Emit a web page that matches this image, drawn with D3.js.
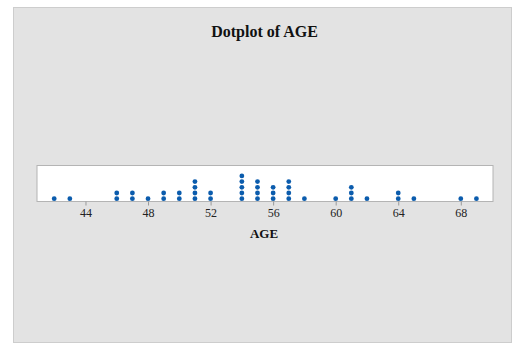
<!DOCTYPE html>
<html lang="en">
<head>
<meta charset="UTF-8">
<title>Dotplot of AGE</title>
<script src="https://d3js.org/d3.v7.min.js"></script>
<style>
  body { margin: 0; background: #fff; }
  svg text { font-family: "Liberation Serif", "Times New Roman", serif; fill: #111; }
</style>
</head>
<body>
<div id="chart"></div>
<script>
// ages and how many observations stack at each
const ages   = [42, 43, 46, 47, 48, 49, 50, 51, 52, 54, 55, 56, 57, 58, 60, 61, 62, 64, 65, 68, 69];
const counts = [ 1,  1,  2,  2,  1,  2,  2,  4,  2,  5,  4,  3,  4,  1,  1,  3,  1,  2,  1,  1,  1];
const tickValues = [44, 48, 52, 56, 60, 64, 68];

const width = 529, height = 351;

const svg = d3.select("#chart").append("svg")
    .attr("width", width)
    .attr("height", height);

// outer grey panel
svg.append("rect")
    .attr("x", 13.5).attr("y", 7.5)
    .attr("width", 498).attr("height", 335)
    .attr("fill", "#e3e3e3")
    .attr("stroke", "#cdcdcd");

// plot area
const plotLeft = 37, plotRight = 493, plotTop = 165.5, plotBottom = 201.5;

svg.append("rect")
    .attr("x", plotLeft).attr("y", plotTop)
    .attr("width", plotRight - plotLeft).attr("height", plotBottom - plotTop)
    .attr("fill", "#fff")
    .attr("stroke", "#b4b4b4");

const x = d3.scaleLinear()
    .domain([40.9, 70.06])
    .range([plotLeft, plotRight]);

const xAxis = d3.axisBottom(x)
    .tickValues(tickValues)
    .tickSize(4)
    .tickPadding(3)
    .tickFormat(d3.format("d"));

const ax = svg.append("g")
    .attr("transform", "translate(0," + plotBottom + ")")
    .call(xAxis);
ax.select(".domain").remove();
ax.selectAll(".tick line").attr("stroke", "#999");
ax.selectAll(".tick text")
    .style("font-size", "12px")
    .style("font-family", "'Liberation Serif', serif")
    .style("fill", "#222");

// expand counts into individual dots
const dots = [];
ages.forEach(function(a, i) {
    for (let k = 0; k < counts[i]; k++) dots.push({ age: a, level: k });
});

const dotStep = 5.7;
svg.append("g").selectAll("circle")
    .data(dots)
    .enter()
    .append("circle")
    .attr("cx", d => x(d.age))
    .attr("cy", d => 198.7 - d.level * dotStep)
    .attr("r", 2.4)
    .attr("fill", "#0b5cad");

// titles
svg.append("text")
    .attr("x", 264.5).attr("y", 37)
    .attr("text-anchor", "middle")
    .style("font-weight", "bold")
    .style("font-size", "16px")
    .text("Dotplot of AGE");

svg.append("text")
    .attr("x", 264).attr("y", 238)
    .attr("text-anchor", "middle")
    .style("font-weight", "bold")
    .style("font-size", "13px")
    .text("AGE");
</script>
</body>
</html>
